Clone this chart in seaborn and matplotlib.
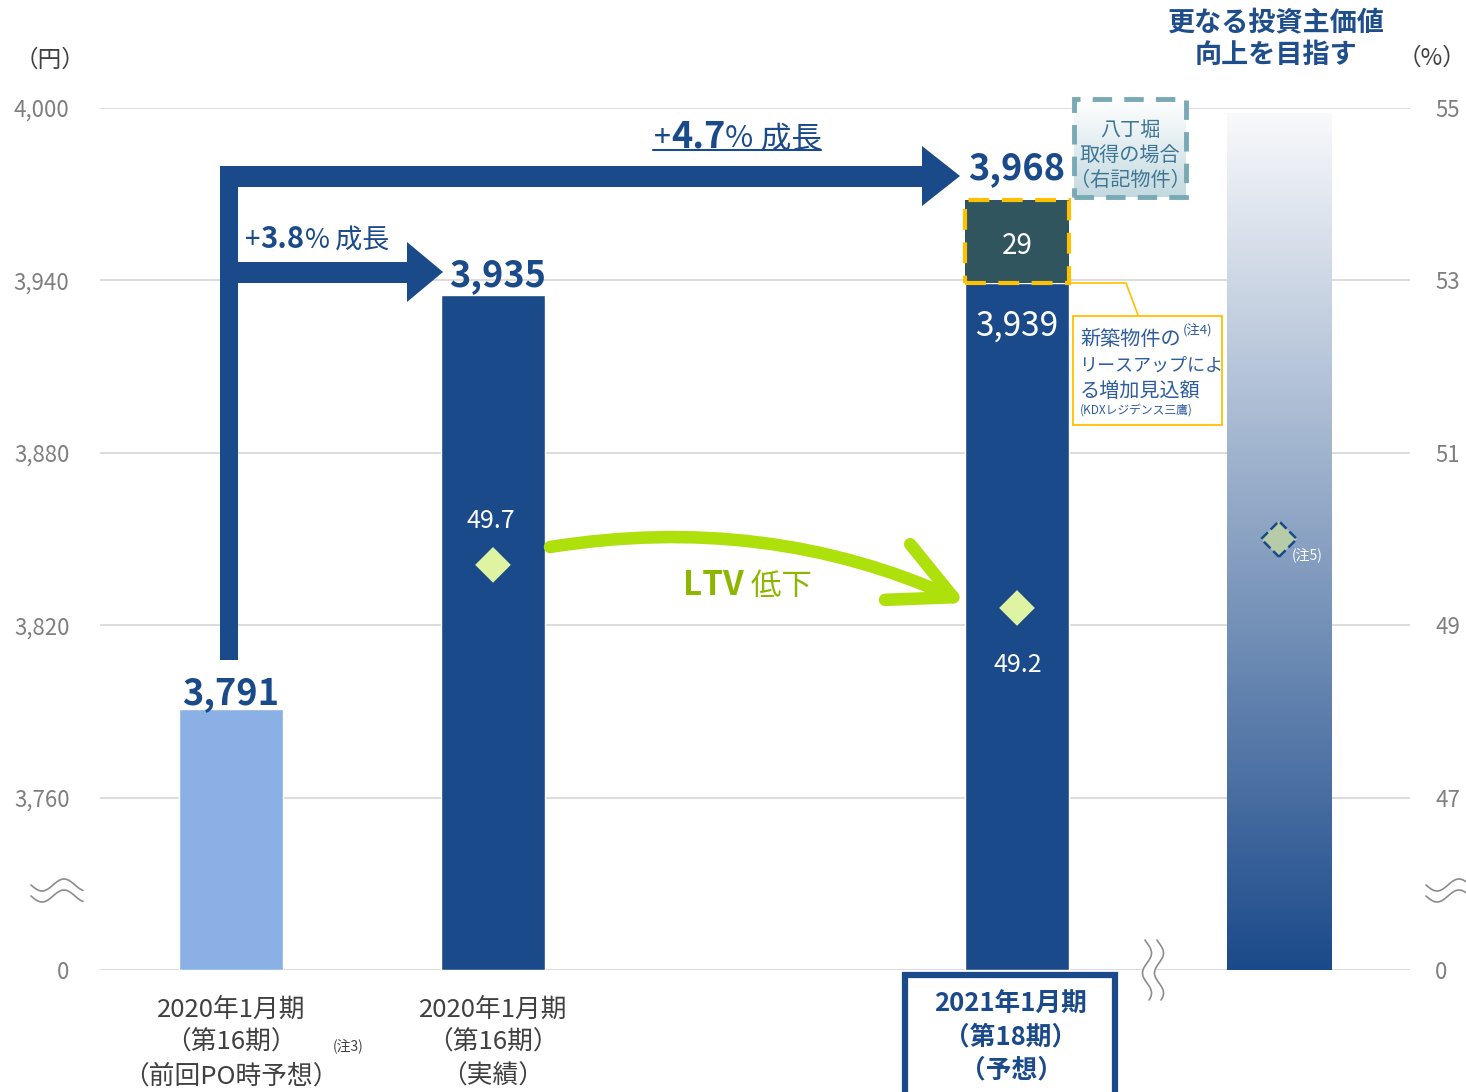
import numpy as np
import pandas as pd
import matplotlib
matplotlib.use("Agg")
import matplotlib.pyplot as plt
import seaborn as sns
from matplotlib.patches import Polygon, Rectangle, FancyArrowPatch
from matplotlib.lines import Line2D
from matplotlib.colors import LinearSegmentedColormap

# ---------------- data ----------------
period_labels = ["2020年1月期\n（第16期）\n（前回PO時予想）",
                 "2020年1月期\n（第16期）\n（実績）",
                 "2021年1月期\n（第18期）\n（予想）"]
bar_positions = [0, 1, 3]
dpu_values = [3791, 3935, 3939]
leaseup_increase = 29
ltv_positions = [1, 3]
ltv_values = [49.7, 49.2]
goal_position = 4
goal_ltv = 50.0
yen_ticks = [0, 3760, 3820, 3880, 3940, 4000]
pct_ticks = [0, 47, 49, 51, 53, 55]

# ---------------- style ----------------
BASE = 3700        # axis break: "0" drawn where 3,700 would be
PCT_BASE = 45      # axis break on the % axis
GOAL_TOP = 3998
DARK = "#1B4A8A"
LIGHT = "#8AB0E6"
SLATE = "#30555F"
YELLOW = "#FFC000"
LIME = "#DEF4A2"
GRAY = "#7F7F7F"
TXT = "#404040"
ARROW_GREEN = "#AEE00C"
TEXT_GREEN = "#8DB600"
NOTE_BLUE = "#2E5C9E"
TEAL_TXT = "#3D7795"

W, H = 1466, 1092
sns.set_theme(style="white")
plt.rcParams["font.family"] = ["Noto Sans CJK JP", "DejaVu Sans"]

fig = plt.figure(figsize=(W / 100, H / 100), dpi=100)
fig.patch.set_facecolor("white")
ax = fig.add_axes([100 / W, 1 - 970 / H, 1310 / W, 862 / H])


def fx(px):
    return px / W


def fy(py):
    return 1 - py / H


# ---------------- bars ----------------
df = pd.DataFrame({"pos": bar_positions,
                   "dpu": [v - BASE for v in dpu_values],
                   "period": ["p1", "p2", "p3"]})
sns.barplot(data=df, x="pos", y="dpu", hue="period", palette=[LIGHT, DARK, DARK],
            native_scale=True, width=0.4, dodge=False, legend=False,
            saturation=1, ax=ax, zorder=3)

ax.bar(bar_positions[2], leaseup_increase, bottom=dpu_values[2] - BASE, width=0.4,
       color=SLATE, edgecolor=YELLOW, linewidth=3, linestyle=(0, (5, 3)), zorder=4)

cmap = LinearSegmentedColormap.from_list("goal", ["#F8F9FB", DARK])
grad = np.linspace(0, 1, 256).reshape(-1, 1)
ax.imshow(grad, cmap=cmap, aspect="auto", origin="upper", zorder=3,
          extent=[goal_position - 0.2, goal_position + 0.2, 0, GOAL_TOP - BASE])

ax.set_xlim(-0.5, 4.5)
ax.set_ylim(0, 4000 - BASE)
ax.set_yticks([0 if t == 0 else t - BASE for t in yen_ticks])
ax.set_yticklabels([f"{t:,}" for t in yen_ticks])
ax.tick_params(axis="y", length=0, pad=22, labelsize=16, labelcolor=GRAY)
ax.set_xticks(bar_positions)
ax.set_xticklabels(period_labels[:2] + [""])
ax.tick_params(axis="x", length=0, pad=19, labelsize=18.5, labelcolor=TXT)
for lab in ax.get_xticklabels():
    lab.set_linespacing(1.38)
# forecast period label (bold, boxed) drawn at the same x position
ax.annotate(period_labels[2], xy=(bar_positions[2], 0), xycoords=("data", "axes fraction"),
            xytext=(-6, -21), textcoords="offset pixels", ha="center", va="top",
            fontsize=18.5, fontweight="bold", color=DARK, linespacing=1.28,
            multialignment="center", annotation_clip=False)
ax.set_xlabel("")
ax.set_ylabel("")
ax.yaxis.grid(True, color="#D9D9D9", lw=1.3)
ax.xaxis.grid(False)
ax.set_axisbelow(True)
for s in ax.spines.values():
    s.set_visible(False)

# value labels
lbl = dict(ha="center", va="baseline", textcoords="offset pixels", zorder=6)
ax.annotate(f"{dpu_values[0]:,}", xy=(bar_positions[0], dpu_values[0] - BASE), xytext=(0, 4),
            fontsize=26, fontweight="bold", color=DARK, **lbl)
ax.annotate(f"{dpu_values[1]:,}", xy=(bar_positions[1], dpu_values[1] - BASE), xytext=(5, 9),
            fontsize=26, fontweight="bold", color=DARK, **lbl)
ax.annotate(f"{dpu_values[2] + leaseup_increase:,}",
            xy=(bar_positions[2], dpu_values[2] + leaseup_increase - BASE), xytext=(0, 21),
            fontsize=26, fontweight="bold", color=DARK, **lbl)
ax.annotate(f"{dpu_values[2]:,}", xy=(bar_positions[2], dpu_values[2] - BASE), xytext=(0, -52),
            fontsize=24, color="white", **lbl)
ax.annotate(f"{leaseup_increase}", xy=(bar_positions[2], dpu_values[2] + leaseup_increase / 2 - BASE),
            xytext=(0, -4), ha="center", va="center", textcoords="offset pixels",
            fontsize=20, color="white", zorder=6)

# ---------------- LTV (right axis) ----------------
ax2 = ax.twinx()
ax2.set_ylim(PCT_BASE, 55)
sns.scatterplot(x=ltv_positions, y=ltv_values, marker="D", s=330, color=LIME,
                edgecolor="none", ax=ax2, zorder=5, legend=False)
ax2.scatter([goal_position], [goal_ltv], marker="D", s=330, color="#B6CBA8",
            edgecolors=DARK, linewidths=1.8, linestyle="--", zorder=5)
ax2.set_yticks([PCT_BASE if t == 0 else t for t in pct_ticks])
ax2.set_yticklabels([str(t) for t in pct_ticks])
ax2.tick_params(axis="y", length=0, pad=18, labelsize=16, labelcolor=GRAY)
ax2.grid(False)
for s in ax2.spines.values():
    s.set_visible(False)
ax2.annotate(f"{ltv_values[0]}", xy=(ltv_positions[0], ltv_values[0]), xytext=(-2, 37),
             fontsize=18, color="white", **lbl)
ax2.annotate(f"{ltv_values[1]}", xy=(ltv_positions[1], ltv_values[1]), xytext=(1, -64),
             fontsize=18, color="white", **lbl)
ax2.annotate("(注5)", xy=(goal_position, goal_ltv), xytext=(13, -20), textcoords="offset pixels",
             ha="left", va="baseline", fontsize=10, color="white", zorder=6)

# ---------------- decorations ----------------
renderer = fig.canvas.get_renderer()


def chain(x, y, pieces):
    for s, kw in pieces:
        t = fig.text(fx(x), fy(y), s, ha="left", va="baseline", **kw)
        bb = t.get_window_extent(renderer)
        x = bb.x1
    return x


# box around the forecast period label
fig.add_artist(Rectangle((fx(905), fy(1100)), 210 / W, 125 / H, fc="none", ec=DARK, lw=4.5,
                         transform=fig.transFigure, zorder=4))

# blue growth arrows (pixel outline)
pts = [(220, 660), (220, 166), (922, 166), (922, 146), (960, 176), (922, 206), (922, 187),
       (238, 187), (238, 262), (407, 262), (407, 242), (443, 272), (407, 302), (407, 283),
       (238, 283), (238, 660)]
fig.add_artist(Polygon([(fx(a), fy(b)) for a, b in pts], closed=True, fc=DARK, ec="none",
                       transform=fig.transFigure, zorder=3))

g1 = (dpu_values[1] / dpu_values[0] - 1) * 100
g2 = ((dpu_values[2] + leaseup_increase) / dpu_values[0] - 1) * 100
chain(245, 248, [("+", dict(fontsize=20, color=DARK)),
                 (f"{g1:.1f}", dict(fontsize=21, fontweight="bold", color=DARK)),
                 ("%", dict(fontsize=19.5, color=DARK)),
                 (" 成長", dict(fontsize=19.5, color=DARK))])
xe = chain(654, 147, [("+", dict(fontsize=22, color=DARK)),
                      (f"{g2:.1f}", dict(fontsize=26, fontweight="bold", color=DARK)),
                      ("%", dict(fontsize=22, color=DARK)),
                      (" 成長", dict(fontsize=22, color=DARK))])
fig.add_artist(Line2D([fx(653), fx(xe)], [fy(150), fy(150)], color=DARK, lw=1.5,
                      transform=fig.transFigure))

# green LTV arrow
fig.add_artist(FancyArrowPatch((fx(550), fy(547)), (fx(966), fy(603)), transform=fig.transFigure,
                               connectionstyle="arc3,rad=-0.15",
                               arrowstyle="->,head_length=1.1,head_width=0.55",
                               mutation_scale=40, lw=9, color=ARROW_GREEN,
                               capstyle="round", joinstyle="round", shrinkA=0, shrinkB=0, zorder=3))
chain(683, 595, [("LTV", dict(fontsize=24, fontweight="bold", color=TEXT_GREEN)),
                 (" 低下", dict(fontsize=22, color=TEXT_GREEN))])

# Hatchobori box
bax = fig.add_axes([fx(1074), fy(197), 112 / W, 98 / H], zorder=0.5)
bax.imshow(grad, cmap=LinearSegmentedColormap.from_list("hb", ["#FFFFFF", "#C3D9E0"]),
           aspect="auto")
bax.axis("off")
fig.add_artist(Rectangle((fx(1074), fy(197)), 112 / W, 98 / H, fc="none", ec="#79A9B4",
                         lw=3.5, linestyle=(0, (4, 2.5)), transform=fig.transFigure, zorder=4))
for txt, py in [("八丁堀", 130), ("取得の場合", 156), ("（右記物件）", 181)]:
    fig.text(fx(1130), fy(py), txt, ha="center", va="center", fontsize=14.5, color=TEAL_TXT,
             zorder=5)

# lease-up note
fig.add_artist(Line2D([fx(1069), fx(1126), fx(1138)], [fy(283), fy(283), fy(315)],
                      color=YELLOW, lw=1.2, transform=fig.transFigure, zorder=4))
fig.add_artist(Rectangle((fx(1073), fy(425)), 149 / W, 109 / H, fc="white", ec=YELLOW, lw=1.3,
                         transform=fig.transFigure, zorder=4))
xe = chain(1080, 345, [("新築物件の", dict(fontsize=14.5, color=NOTE_BLUE, zorder=5))])
fig.text(fx(xe + 2), fy(335), "(注4)", ha="left", va="baseline", fontsize=9.5, color=NOTE_BLUE,
         zorder=5)
fig.text(fx(1079), fy(371), "リースアップによ", ha="left", va="baseline", fontsize=13,
         color=NOTE_BLUE, zorder=5)
fig.text(fx(1080), fy(397), "る増加見込額", ha="left", va="baseline", fontsize=14.5,
         color=NOTE_BLUE, zorder=5)
fig.text(fx(1080), fy(414), "(KDXレジデンス三鷹)", ha="left", va="baseline", fontsize=8.5,
         color=NOTE_BLUE, zorder=5)

# titles / units
fig.text(fx(1276), fy(22), "更なる投資主価値", ha="center", va="center", fontsize=19.5,
         fontweight="bold", color="#1F4E8C")
fig.text(fx(1276), fy(55), "向上を目指す", ha="center", va="center", fontsize=19.5,
         fontweight="bold", color="#1F4E8C")
fig.text(fx(50), fy(60), "（円）", ha="center", va="center", fontsize=17, color=TXT)
fig.text(fx(1466), fy(58), "（%）", ha="right", va="center", fontsize=17, color=TXT)
fig.text(fx(333), fy(1050), "(注3)", ha="left", va="baseline", fontsize=10, color=TXT)

# axis-break squiggles
xs = np.linspace(-26, 26, 80)
for cx in (29, 1424):
    for cy in (885, 896):
        ys = cy - 6 * np.sin(2 * np.pi * (xs + 4) / 44)
        fig.add_artist(Line2D(fx(cx + 2 + xs + 26), fy(ys), color="#8C8C8C", lw=1.2,
                              transform=fig.transFigure))
yv = np.linspace(940, 1000, 80)
wav = 4.5 * np.sin(2 * np.pi * (yv - 943) / 40)
lx = 1147 + wav
rx = 1159 + wav
fig.add_artist(Polygon(np.column_stack([fx(np.r_[lx, rx[::-1]]), fy(np.r_[yv, yv[::-1]])]),
                       fc="white", ec="none", transform=fig.transFigure, zorder=3))
for xx in (lx, rx):
    fig.add_artist(Line2D(fx(xx), fy(yv), color="#8C8C8C", lw=1.2, transform=fig.transFigure,
                          zorder=4))

fig.savefig("out.png", dpi=100)
